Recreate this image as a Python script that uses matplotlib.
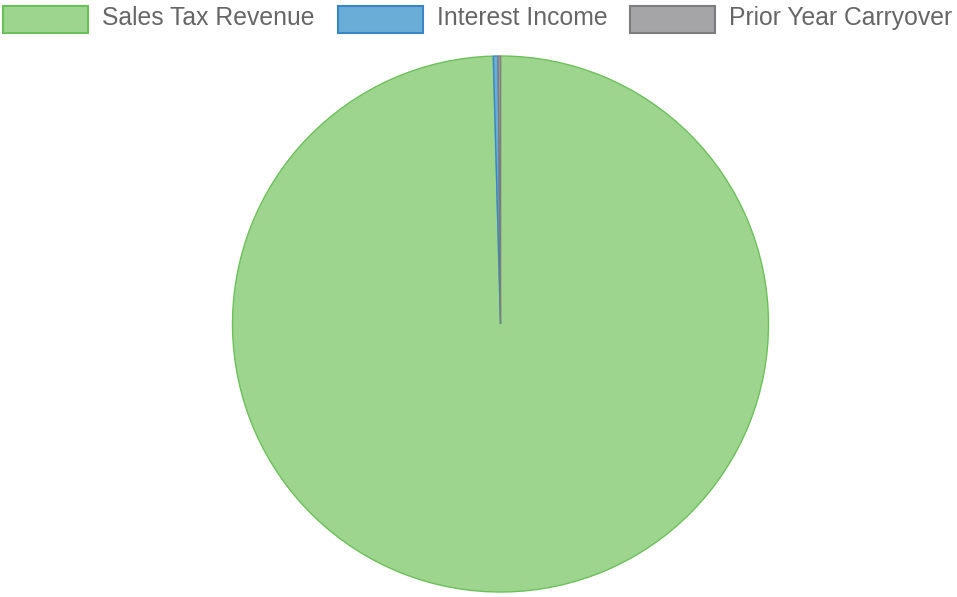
import matplotlib
matplotlib.use("Agg")
from matplotlib import pyplot as plt
from matplotlib.patches import Rectangle

labels = ["Sales Tax Revenue", "Interest Income", "Prior Year Carryover"]
values = [1250000, 3600, 1800]
fills = ["#9ed58e", "#6aaed8", "#a5a5a8"]
edges = ["#6cc05a", "#3a86c4", "#7c7c7e"]

W, H = 957, 597
fig = plt.figure(figsize=(W / 100, H / 100), dpi=100)

# pie area in pixels: x 232..769, y 56..592
ax = fig.add_axes([232 / W, (H - 592) / H, 537 / W, 536 / H])
wedges, _ = ax.pie(values, colors=fills, startangle=90, counterclock=False,
                   radius=1, wedgeprops=dict(linewidth=1))
for w, e in zip(wedges, edges):
    w.set_edgecolor(e)
ax.set_xlim(-1.0, 1.0)
ax.set_ylim(-1.0, 1.0)
ax.set_aspect("equal")
ax.axis("off")

# legend drawn by hand along the top
box_x = [3, 338, 630]
for x, lab, f, e in zip(box_x, labels, fills, edges):
    fig.patches.append(Rectangle((x / W, (H - 33) / H), 85 / W, 27 / H,
                                 transform=fig.transFigure, facecolor=f,
                                 edgecolor=e, linewidth=1.5))
    fig.text((x + 99) / W, (H - 18) / H, lab, fontsize=17.8, color="#666666",
             family="Liberation Sans", va="center", ha="left")

plt.savefig("out.png", dpi=100)
